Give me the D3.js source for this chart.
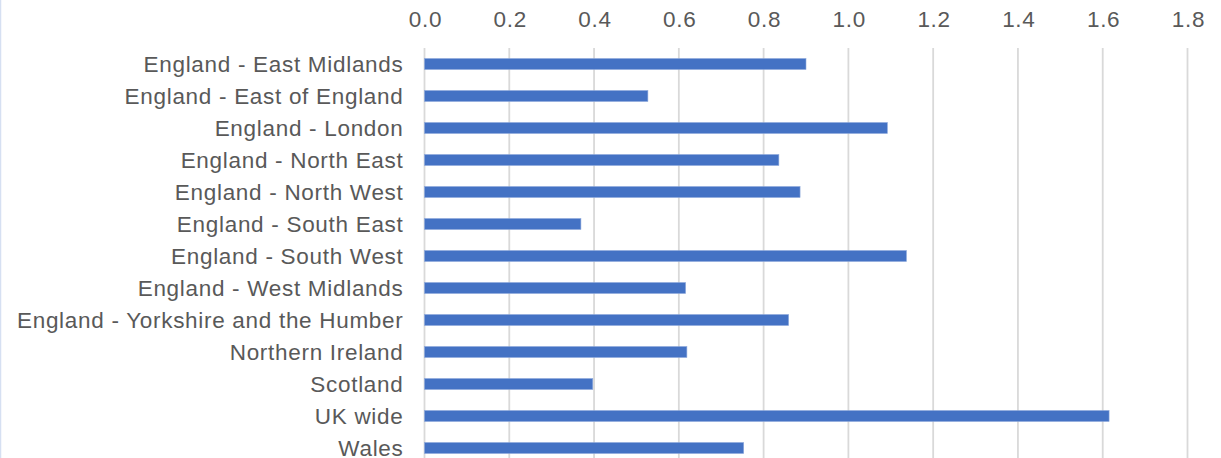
<!DOCTYPE html>
<html>
<head>
<meta charset="utf-8">
<script src="https://cdn.jsdelivr.net/npm/d3@7"></script>
<style>
  html, body { margin: 0; padding: 0; background: #fff; }
  svg { display: block; }
</style>
</head>
<body>
<svg id="chart" width="1221" height="458"></svg>
<script>
const categories = [
  "England - East Midlands",
  "England - East of England",
  "England - London",
  "England - North East",
  "England - North West",
  "England - South East",
  "England - South West",
  "England - West Midlands",
  "England - Yorkshire and the Humber",
  "Northern Ireland",
  "Scotland",
  "UK wide",
  "Wales"
];
const values = [0.90, 0.527, 1.092, 0.836, 0.886, 0.369, 1.137, 0.616, 0.859, 0.619, 0.397, 1.615, 0.753];
const tickValues = [0, 0.2, 0.4, 0.6, 0.8, 1.0, 1.2, 1.4, 1.6, 1.8];

(function () {
const svg = d3.select("#chart");
const W = 1221, H = 458;
const plotLeft = 424.5, plotRight = 1187.5, plotTop = 48, plotBottom = 464;
const FONT = '"Liberation Sans", Arial, sans-serif';

const x = d3.scaleLinear().domain([0, 1.8]).range([plotLeft, plotRight]);
const y = d3.scaleBand().domain(categories).range([plotTop, plotBottom])
  .paddingInner(0.656).paddingOuter(0.328);

svg.append("line").attr("x1", 0.5).attr("x2", 0.5).attr("y1", 0).attr("y2", H)
  .attr("stroke", "#d6e0f2").attr("stroke-width", 1.5);

svg.append("g").selectAll("line").data(tickValues).join("line")
  .attr("x1", d => x(d)).attr("x2", d => x(d))
  .attr("y1", plotTop).attr("y2", plotBottom)
  .attr("stroke", "#d9d9d9").attr("stroke-width", 1.8);

const xAxis = d3.axisTop(x).tickValues(tickValues).tickFormat(d3.format(".1f")).tickSize(0).tickPadding(0);
const gx = svg.append("g").attr("transform", "translate(0.4,27)").call(xAxis);
gx.select(".domain").remove();
gx.attr("font-family", FONT);
gx.selectAll("text")
  .attr("y", 0).attr("dy", 0)
  .attr("font-family", FONT)
  .attr("letter-spacing", 0.7)
  .attr("font-size", 22.5).attr("fill", "#595959");

svg.append("g").selectAll("rect").data(categories).join("rect")
  .attr("x", x(0))
  .attr("y", d => y(d))
  .attr("width", (d, i) => x(values[i]) - x(0))
  .attr("height", y.bandwidth())
  .attr("fill", "#4472c4")
  .attr("stroke", "#8faadc").attr("stroke-width", 0.6);

const yAxis = d3.axisLeft(y).tickSize(0).tickPadding(0);
const gy = svg.append("g").attr("transform", "translate(403.5,0)").call(yAxis);
gy.select(".domain").remove();
gy.attr("font-family", FONT);
gy.selectAll("text")
  .attr("x", 0).attr("dy", 7.5)
  .attr("font-family", FONT)
  .attr("letter-spacing", 0.7)
  .attr("font-size", 22.5).attr("fill", "#595959");
})();
</script>
</body>
</html>
